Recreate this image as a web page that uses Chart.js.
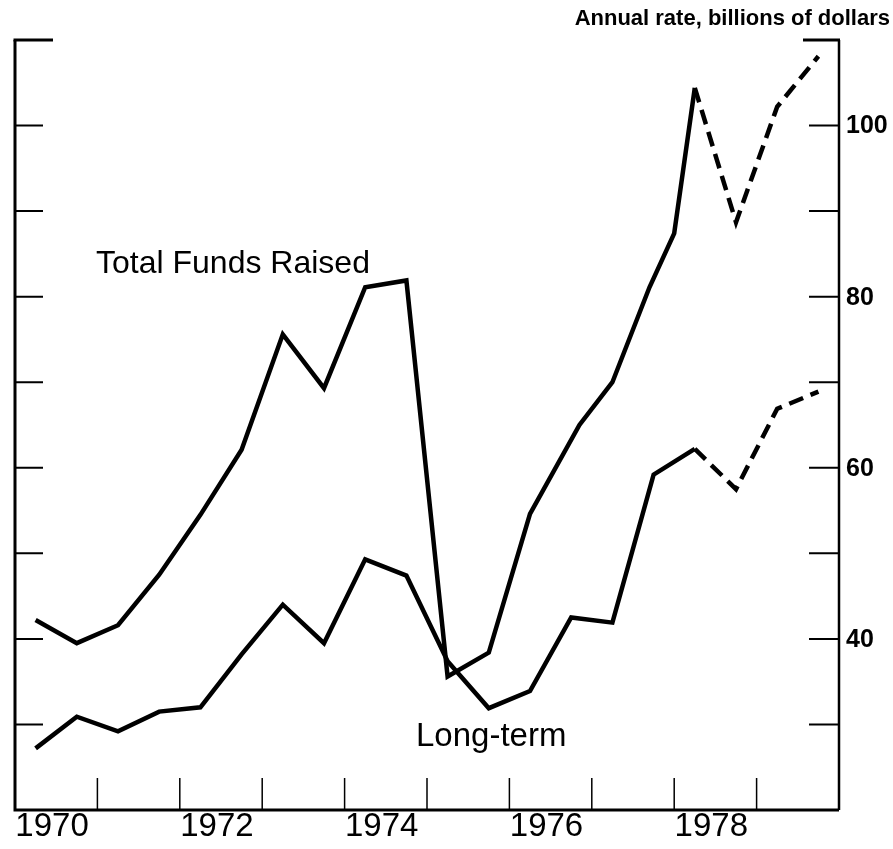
<!DOCTYPE html>
<html>
<head>
<meta charset="utf-8">
<script src="https://cdn.jsdelivr.net/npm/chart.js@4/dist/chart.umd.min.js"></script>
<style>
  html, body { margin: 0; padding: 0; background: #ffffff; }
  #wrap { position: relative; width: 893px; height: 849px; }
</style>
</head>
<body>
<div id="wrap"><canvas id="c"></canvas></div>
<script>
// ---- data ----
const titleText = "Annual rate, billions of dollars";
const totalLabel = "Total Funds Raised";
const longLabel = "Long-term";

const totalX = [1970.25,1970.75,1971.25,1971.75,1972.25,1972.75,1973.25,1973.75,1974.25,1974.75,1975.25,1975.75,1976.25,1976.85,1977.25,1977.7,1978.0,1978.25,1978.75,1979.25,1979.75];
const totalVals = [42.2,39.5,41.6,47.5,54.5,62.1,75.6,69.3,81.1,81.9,35.6,38.4,54.6,65.0,70.0,81.1,87.4,104.4,88.7,102.2,108.1];

const longX = [1970.25,1970.75,1971.25,1971.75,1972.25,1972.75,1973.25,1973.75,1974.25,1974.75,1975.25,1975.75,1976.25,1976.75,1977.25,1977.75,1978.25,1978.75,1979.25,1979.75];
const longVals = [27.2,30.9,29.2,31.5,32.0,38.2,44.0,39.5,49.3,47.4,37.4,31.9,33.9,42.5,41.9,59.2,62.2,57.5,66.9,68.9];

const projectionStart = 1978.25;          // segments after this are dashed (projected)
const yearTicks = [1971,1972,1973,1974,1975,1976,1977,1978,1979];
const yearLabels = [1970,1972,1974,1976,1978];
const yTicks = [30,40,50,60,70,80,90,100];
const yLabels = [40,60,80,100];
const yMin = 20, yMax = 110, xMin = 1970, xMax = 1980;

const FONT = "'Liberation Sans', Arial, Helvetica, sans-serif";

function toPoints(xs, ys) { return xs.map((x, i) => ({ x: x, y: ys[i] })); }
const dashSeg = { borderDash: ctx => ctx.p0.parsed.x >= projectionStart - 1e-6 ? [15, 8] : undefined };

const decor = {
  id: 'decor',
  afterDatasetsDraw(chart) {
    const ctx = chart.ctx;
    const xs = chart.scales.x, ys = chart.scales.y;
    const L = xs.getPixelForValue(xMin), R = xs.getPixelForValue(xMax);
    const T = ys.getPixelForValue(yMax), B = ys.getPixelForValue(yMin);
    ctx.save();
    ctx.strokeStyle = '#000';
    ctx.lineCap = 'butt';
    // frame: left, bottom, right
    ctx.lineWidth = 3;
    ctx.beginPath();
    ctx.moveTo(L, T); ctx.lineTo(L, B); ctx.lineTo(R, B);
    ctx.stroke();
    ctx.lineWidth = 2.5;
    ctx.beginPath();
    ctx.moveTo(R, B); ctx.lineTo(R, T);
    ctx.stroke();
    // top caps
    ctx.lineWidth = 3;
    ctx.beginPath();
    ctx.moveTo(L - 1.5, T); ctx.lineTo(L + 38, T);
    ctx.moveTo(R + 1, T); ctx.lineTo(R - 36, T);
    ctx.stroke();
    // y ticks (inside, both sides)
    ctx.lineWidth = 2;
    ctx.beginPath();
    yTicks.forEach(v => {
      const y = ys.getPixelForValue(v);
      ctx.moveTo(L, y); ctx.lineTo(L + 28, y);
      ctx.moveTo(R, y); ctx.lineTo(R - 30, y);
    });
    ctx.stroke();
    // x ticks (inside, up from bottom)
    ctx.lineWidth = 1.5;
    ctx.beginPath();
    yearTicks.forEach(v => {
      const x = xs.getPixelForValue(v);
      ctx.moveTo(x, B); ctx.lineTo(x, B - 32);
    });
    ctx.stroke();

    ctx.fillStyle = '#000';
    // year labels, centred in their year
    ctx.font = '33px ' + FONT;
    ctx.textAlign = 'center';
    ctx.textBaseline = 'alphabetic';
    yearLabels.forEach(yr => {
      ctx.fillText(String(yr), xs.getPixelForValue(yr + 0.45), B + 26);
    });
    // right-hand value labels
    ctx.font = 'bold 25px ' + FONT;
    ctx.textAlign = 'left';
    ctx.textBaseline = 'middle';
    yLabels.forEach(v => {
      ctx.fillText(String(v), R + 7, ys.getPixelForValue(v) + 1);
    });
    // unit title
    ctx.font = 'bold 22px ' + FONT;
    ctx.textAlign = 'right';
    ctx.textBaseline = 'alphabetic';
    ctx.fillText(titleText, 890, 25);
    // series annotations
    ctx.font = '32px ' + FONT;
    ctx.textAlign = 'left';
    ctx.fillText(totalLabel, 96, 273);
    ctx.font = '33px ' + FONT;
    ctx.fillText(longLabel, 416, 746);
    ctx.restore();
  }
};

new Chart(document.getElementById('c'), {
  type: 'line',
  data: {
    datasets: [
      {
        label: totalLabel,
        data: toPoints(totalX, totalVals),
        borderColor: '#000', borderWidth: 4.5,
        borderJoinStyle: 'miter', borderCapStyle: 'butt',
        pointRadius: 0, tension: 0, fill: false,
        segment: dashSeg
      },
      {
        label: longLabel,
        data: toPoints(longX, longVals),
        borderColor: '#000', borderWidth: 4.5,
        borderJoinStyle: 'miter', borderCapStyle: 'butt',
        pointRadius: 0, tension: 0, fill: false,
        segment: dashSeg
      }
    ]
  },
  options: {
    responsive: true,
    maintainAspectRatio: false,
    animation: false,
    layout: { padding: { left: 15, right: 54, top: 40, bottom: 39 } },
    plugins: { legend: { display: false }, tooltip: { enabled: false }, title: { display: false } },
    scales: {
      x: { type: 'linear', min: xMin, max: xMax, display: false },
      y: { type: 'linear', min: yMin, max: yMax, display: false }
    }
  },
  plugins: [decor]
});
</script>
</body>
</html>
